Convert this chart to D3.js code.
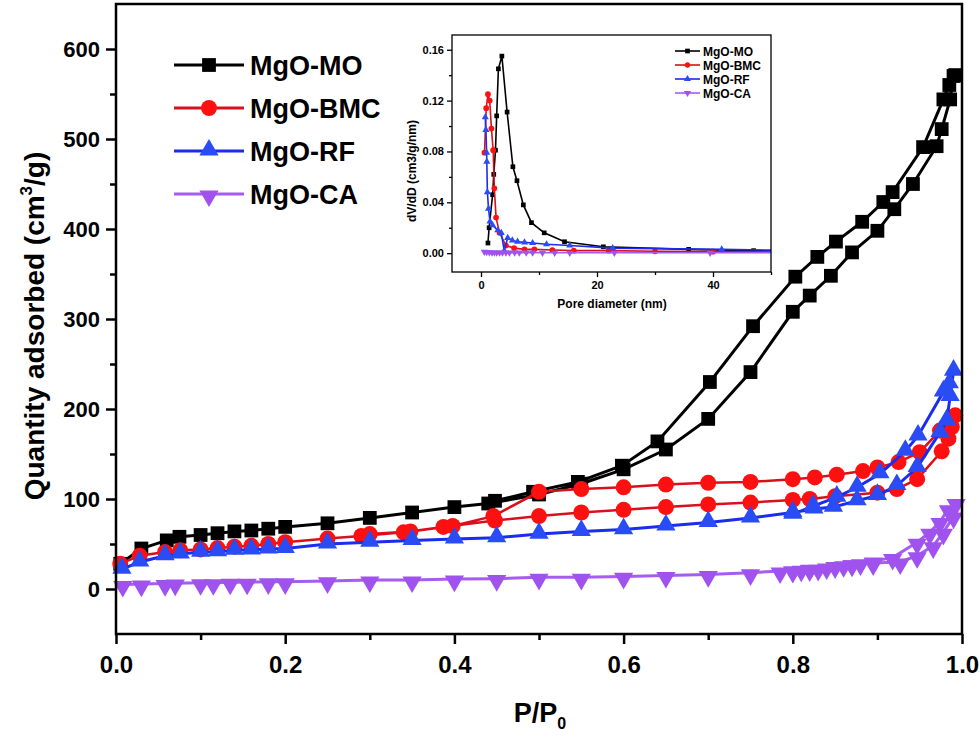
<!DOCTYPE html>
<html>
<head>
<meta charset="utf-8">
<script src="https://cdn.jsdelivr.net/npm/d3@7"></script>
<style>
  body { margin: 0; background: #fff; }
  svg { display: block; font-family: "Liberation Sans", Arial, sans-serif; font-weight: bold; }
</style>
</head>
<body>
<div id="chart"></div>
<script>
// Isotherms: [P/P0, quantity adsorbed]
const moAds = [[0.005,28],[0.03,45],[0.06,54],[0.075,58],[0.1,60],[0.12,62],[0.14,64],[0.16,65],[0.18,67],[0.2,69],
  [0.25,73],[0.3,79],[0.35,85],[0.4,91],[0.44,95],[0.5,105],[0.55,117],[0.6,133],[0.65,155],[0.7,189],[0.75,241],
  [0.8,308],[0.82,326],[0.845,348],[0.87,374],[0.9,398],[0.92,422],[0.942,450],[0.97,492],[0.976,511],[0.986,544],[0.99,570]];
const moDes = [[0.992,571],[0.985,560],[0.978,544],[0.954,491],[0.918,441],[0.907,430],[0.882,408],[0.851,386],
  [0.829,369],[0.803,347],[0.753,292],[0.702,230],[0.64,164],[0.598,137],[0.546,119],[0.493,108],[0.448,98]];

const bmcAds = [[0.005,28],[0.028,37],[0.058,41],[0.076,43],[0.1,44],[0.12,45.5],[0.14,47],[0.16,48],[0.18,50],[0.2,52],
  [0.25,56],[0.29,59],[0.34,63],[0.387,69],[0.448,76],[0.5,81],[0.55,85],[0.6,88],[0.65,91],[0.7,94],[0.75,96],
  [0.8,99],[0.82,100],[0.85,103],[0.9,107],[0.923,111],[0.947,122],[0.976,153],[0.984,167],[0.988,180]];
const bmcDes = [[0.992,193],[0.982,180],[0.974,176],[0.95,152],[0.925,141],[0.9,135],[0.883,131],[0.852,127],
  [0.826,124],[0.8,122],[0.75,119],[0.7,118],[0.65,116],[0.6,113],[0.55,111],[0.5,108],[0.446,81],[0.398,70],[0.348,64],[0.3,61]];

const rfAds = [[0.007,22],[0.028,30],[0.058,37],[0.076,39],[0.1,41],[0.12,41.5],[0.14,43],[0.16,43.5],[0.18,44.5],[0.2,45],
  [0.25,50],[0.3,52],[0.35,54],[0.4,55.5],[0.45,57],[0.5,61],[0.55,64],[0.6,66],[0.65,70],[0.7,74],[0.75,79],
  [0.8,85],[0.825,89],[0.848,91],[0.876,98],[0.9,104],[0.923,115],[0.947,135],[0.974,174],[0.982,187],[0.986,214],[0.99,242]];
const rfDes = [[0.985,228],[0.978,219],[0.948,170],[0.933,153],[0.903,128],[0.876,113],[0.852,102],[0.824,92],[0.8,83]];

const caAds = [[0.008,5],[0.03,5.5],[0.058,6],[0.07,6.5],[0.1,7],[0.115,7],[0.135,7.5],[0.155,7.5],[0.18,8],[0.2,8],
  [0.25,9],[0.3,10],[0.35,10],[0.4,11],[0.45,11.5],[0.5,13],[0.55,13],[0.6,14],[0.65,15],[0.7,16],[0.75,18],
  [0.785,20],[0.8,21],[0.81,22],[0.82,22.5],[0.83,23],[0.84,24.5],[0.85,26],[0.86,27],[0.87,28],[0.88,29],
  [0.895,29],[0.927,30],[0.947,37],[0.966,48],[0.978,63],[0.99,81],[0.993,96]];
const caDes = [[0.984,89],[0.974,75],[0.962,63],[0.947,52],[0.918,35],[0.895,31],[0.87,28],[0.85,26],[0.82,23],[0.8,21]];

// Pore size distribution (inset): [pore diameter nm, dV/dD]
const moPsd = [[1.2,0.008],[1.4,0.020],[2.0,0.046],[2.2,0.062],[2.5,0.081],[2.7,0.108],[3.0,0.145],[3.6,0.155],[4.5,0.111],
  [5.5,0.068],[6.2,0.057],[7.3,0.038],[8.7,0.024],[10.9,0.016],[14.4,0.009],[21.1,0.005],[35.8,0.003],[47,0.002],[56,0.0018]];
const bmcPsd = [[0.6,0.079],[0.9,0.114],[1.2,0.125],[1.5,0.12],[1.8,0.098],[2.1,0.081],[2.3,0.051],[2.6,0.028],[3.2,0.016],
  [4.3,0.006],[5.7,0.004],[7.5,0.003],[9.2,0.003],[12.3,0.0025],[16,0.002],[22,0.002],[30,0.0015],[40,0.0012],[56,0.001]];
const rfPsd = [[0.74,0.107],[0.85,0.097],[0.97,0.079],[1.0,0.072],[1.1,0.048],[1.3,0.035],[1.55,0.025],[2.0,0.022],[2.9,0.018],
  [3.5,0.016],[4.0,0.002],[4.6,0.012],[5.4,0.010],[6.3,0.009],[7.5,0.0085],[8.9,0.008],[11.3,0.007],[15.3,0.006],
  [22.7,0.004],[41.5,0.003],[56,0.002]];
const caPsd = [[0.57,0.001],[0.97,0.0008],[1.43,0.0006],[1.9,0.0005],[2.3,0.0005],[2.7,0.0004],[3.2,0.0004],[3.7,0.0004],
  [4.3,0.0004],[4.9,0.0004],[5.8,0.0004],[6.6,0.0004],[7.8,0.0004],[8.9,0.0004],[10.6,0.0003],[12.7,0.0003],
  [15.3,0.0003],[23,0.0003],[39.5,0.0003],[56,0.0003]];

const names = ["MgO-MO", "MgO-BMC", "MgO-RF", "MgO-CA"];
const xTicks = [0, 0.2, 0.4, 0.6, 0.8, 1.0];
const yTicks = [0, 100, 200, 300, 400, 500, 600];
const insetXTicks = [0, 20, 40];
const insetYTicks = [0, 0.04, 0.08, 0.12, 0.16];

const isotherms = [moAds.concat(moDes), bmcAds.concat(bmcDes), rfAds.concat(rfDes), caAds.concat(caDes)];
const psds = [moPsd, bmcPsd, rfPsd, caPsd];

const styles = [
  { line: "#000000", fill: "#000000", shape: d3.symbolSquare, rot: 0 },
  { line: "#d8101c", fill: "#ff1010", shape: d3.symbolCircle, rot: 0 },
  { line: "#1a2cf0", fill: "#2a4cf5", shape: d3.symbolTriangle, rot: 0 },
  { line: "#a65cf0", fill: "#a052ee", shape: d3.symbolTriangle, rot: 180 }
];

const svg = d3.select("#chart").append("svg")
  .attr("width", 980)
  .attr("height", 740);

// ---------- main plot ----------
const x = d3.scaleLinear().domain([0, 1]).range([116, 962]);
const y = d3.scaleLinear().domain([-50, 650]).range([634, 4]);

const line = d3.line().x(d => x(d[0])).y(d => y(d[1]));

isotherms.forEach((data, i) => {
  const s = styles[i];
  svg.append("path")
    .datum(data)
    .attr("d", line)
    .attr("fill", "none")
    .attr("stroke", s.line)
    .attr("stroke-width", i === 1 ? 2.5 : 3);

  const sym = d3.symbol().type(s.shape).size(i === 0 ? 190 : i === 1 ? 200 : 160);
  svg.append("g")
    .selectAll("path")
    .data(data)
    .join("path")
    .attr("d", sym)
    .attr("transform", d => `translate(${x(d[0])},${y(d[1]) + (s.rot ? 2 : (i === 2 ? -1 : 0))}) rotate(${s.rot})`)
    .attr("fill", s.fill);
});

// frame
svg.append("rect")
  .attr("x", 116).attr("y", 4)
  .attr("width", 846).attr("height", 630)
  .attr("fill", "none")
  .attr("stroke", "#000")
  .attr("stroke-width", 2.5);

const yAxis = svg.append("g")
  .attr("transform", "translate(116,0)")
  .call(d3.axisLeft(y).tickValues(yTicks).tickSize(10).tickPadding(6));
yAxis.selectAll("text")
  .attr("font-size", 22)
  .attr("font-weight", "bold")
  .attr("font-family", "'Liberation Sans', Arial, sans-serif")
  .attr("fill", "#000")
  .attr("dy", "0.35em");

svg.append("g")
  .attr("transform", "translate(116,0)")
  .call(d3.axisLeft(y).tickValues(d3.range(50, 650, 100)).tickSize(6).tickFormat(""));

const xAxis = svg.append("g")
  .attr("transform", "translate(0,634)")
  .call(d3.axisBottom(x).tickValues(xTicks).tickSize(10).tickPadding(12).tickFormat(d3.format(".1f")));
xAxis.selectAll("text")
  .attr("font-size", 24)
  .attr("font-weight", "bold")
  .attr("font-family", "'Liberation Sans Narrow', 'Arial Narrow', sans-serif")
  .attr("fill", "#000");

svg.append("g")
  .attr("transform", "translate(0,634)")
  .call(d3.axisBottom(x).tickValues([0.1, 0.3, 0.5, 0.7, 0.9]).tickSize(6).tickFormat(""));

svg.selectAll(".domain").remove();
svg.selectAll(".tick line").attr("stroke", "#000").attr("stroke-width", 2.5);

// axis titles
const yTitle = svg.append("text")
  .attr("transform", "translate(44,326) rotate(-90)")
  .attr("text-anchor", "middle")
  .attr("font-size", 28);
yTitle.append("tspan").text("Quantity adsorbed (cm");
yTitle.append("tspan").attr("font-size", 17).attr("dy", -12).text("3");
yTitle.append("tspan").attr("dy", 12).text("/g)");

const xTitle = svg.append("text")
  .attr("x", 540).attr("y", 722)
  .attr("text-anchor", "middle")
  .attr("font-size", 27)
  .attr("font-family", "'Liberation Sans Narrow', 'Arial Narrow', sans-serif");
xTitle.append("tspan").text("P/P");
xTitle.append("tspan").attr("font-size", 16).attr("dy", 7).text("0");

// legend
const legend = svg.append("g");
names.forEach((n, i) => {
  const s = styles[i];
  const ly = 65 + i * 43;
  legend.append("line")
    .attr("x1", 174).attr("x2", 244)
    .attr("y1", ly).attr("y2", ly)
    .attr("stroke", s.line).attr("stroke-width", 3);
  legend.append("path")
    .attr("d", d3.symbol().type(s.shape).size(i === 0 ? 190 : i === 1 ? 200 : 160))
    .attr("transform", `translate(209,${ly + (s.rot ? 2 : (i === 2 ? -1 : 0))}) rotate(${s.rot})`)
    .attr("fill", s.fill);
  legend.append("text")
    .attr("x", 250).attr("y", ly + 10)
    .attr("font-size", 27)
    .text(n);
});

// ---------- inset ----------
const ix = d3.scaleLinear().domain([-5, 50]).range([452, 771]);
const iy = d3.scaleLinear().domain([-0.0148, 0.1716]).range([272, 35]);

svg.append("clipPath").attr("id", "insetClip")
  .append("rect").attr("x", 452).attr("y", 35).attr("width", 319).attr("height", 237);

const inset = svg.append("g");
const iline = d3.line().x(d => ix(d[0])).y(d => iy(d[1]));
const plots = inset.append("g").attr("clip-path", "url(#insetClip)");

psds.forEach((data, i) => {
  const s = styles[i];
  plots.append("path")
    .datum(data)
    .attr("d", iline)
    .attr("fill", "none")
    .attr("stroke", s.line)
    .attr("stroke-width", 1.6);
  plots.append("g")
    .selectAll("path")
    .data(data)
    .join("path")
    .attr("d", d3.symbol().type(s.shape).size(i === 1 ? 26 : 22))
    .attr("transform", d => `translate(${ix(d[0])},${iy(d[1])}) rotate(${s.rot})`)
    .attr("fill", s.fill);
});

inset.append("rect")
  .attr("x", 452).attr("y", 35)
  .attr("width", 319).attr("height", 237)
  .attr("fill", "none")
  .attr("stroke", "#000")
  .attr("stroke-width", 1.3);

inset.append("g")
  .attr("transform", "translate(452,0)")
  .call(d3.axisLeft(iy).tickValues(insetYTicks).tickSize(5).tickPadding(3).tickFormat(d3.format(".2f")));
inset.append("g")
  .attr("transform", "translate(452,0)")
  .call(d3.axisLeft(iy).tickValues([0.02, 0.06, 0.1, 0.14]).tickSize(3).tickFormat(""));
inset.append("g")
  .attr("transform", "translate(0,272)")
  .call(d3.axisBottom(ix).tickValues(insetXTicks).tickSize(5).tickPadding(4));
inset.append("g")
  .attr("transform", "translate(0,272)")
  .call(d3.axisBottom(ix).tickValues([10, 30, 50]).tickSize(3).tickFormat(""));

inset.selectAll(".domain").remove();
inset.selectAll(".tick line").attr("stroke", "#000").attr("stroke-width", 1.3);
inset.selectAll(".tick text")
  .attr("font-size", 11)
  .attr("font-weight", "bold")
  .attr("font-family", "'Liberation Sans', Arial, sans-serif")
  .attr("fill", "#000");

inset.append("text")
  .attr("transform", "translate(416,171) rotate(-90)")
  .attr("text-anchor", "middle")
  .attr("font-size", 12)
  .text("dV/dD (cm3/g/nm)");
inset.append("text")
  .attr("x", 612).attr("y", 308)
  .attr("text-anchor", "middle")
  .attr("font-size", 12)
  .text("Pore diameter (nm)");

names.forEach((n, i) => {
  const s = styles[i];
  const ly = 51 + i * 14;
  inset.append("line")
    .attr("x1", 675).attr("x2", 700)
    .attr("y1", ly).attr("y2", ly)
    .attr("stroke", s.line).attr("stroke-width", 1.6);
  inset.append("path")
    .attr("d", d3.symbol().type(s.shape).size(22))
    .attr("transform", `translate(687.5,${ly}) rotate(${s.rot})`)
    .attr("fill", s.fill);
  inset.append("text")
    .attr("x", 703).attr("y", ly + 4.5)
    .attr("font-size", 12)
    .text(n);
});
</script>
</body>
</html>
